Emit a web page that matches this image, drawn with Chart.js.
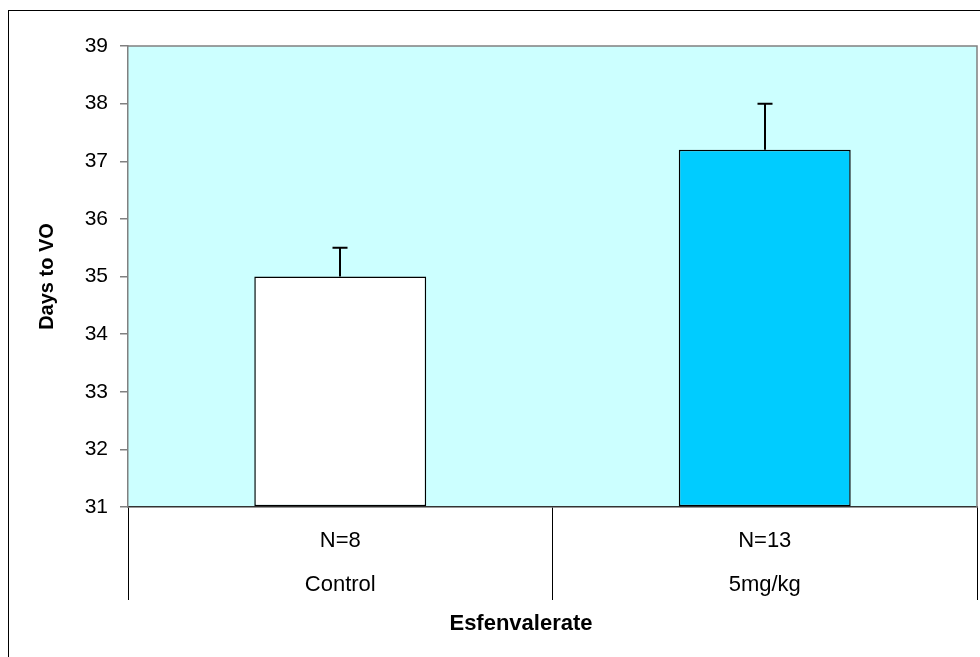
<!DOCTYPE html>
<html>
<head>
<meta charset="utf-8">
<script src="https://cdn.jsdelivr.net/npm/chart.js@4/dist/chart.umd.min.js"></script>
<style>
  html, body { margin: 0; padding: 0; background: #ffffff; }
  #wrap { position: relative; width: 980px; height: 657px; }
</style>
</head>
<body>
<div id="wrap"><canvas id="c"></canvas></div>
<script>
// ---- data ----
const categories = ["Control", "5mg/kg"];
const sampleSizes = ["N=8", "N=13"];
const meanDays = [35.0, 37.2];
const errorUp = [0.5, 0.8];
const barColors = ["#FFFFFF", "#00CCFF"];
const yTickValues = [31, 32, 33, 34, 35, 36, 37, 38, 39];
const yTitle = "Days to VO";
const xTitle = "Esfenvalerate";

const FONT = "'Liberation Sans', Arial, sans-serif";

const framePlugin = {
  id: 'frame',
  beforeDraw(chart) {
    const ctx = chart.ctx;
    const a = chart.chartArea;
    ctx.save();
    ctx.fillStyle = '#CCFFFF';
    ctx.fillRect(a.left, a.top, a.right - a.left, a.bottom - a.top);
    ctx.restore();
  },
  afterDraw(chart) {
    const ctx = chart.ctx;
    const a = chart.chartArea;
    const y = chart.scales.y;
    ctx.save();
    // error bars
    ctx.strokeStyle = '#000000';
    ctx.lineWidth = 2;
    const meta = chart.getDatasetMeta(0);
    meta.data.forEach((bar, i) => {
      const px = Math.round(bar.x);
      const top = y.getPixelForValue(meanDays[i]);
      const cap = y.getPixelForValue(meanDays[i] + errorUp[i]);
      ctx.beginPath();
      ctx.moveTo(px, top);
      ctx.lineTo(px, cap);
      ctx.moveTo(px - 7.5, cap);
      ctx.lineTo(px + 7.5, cap);
      ctx.stroke();
    });
    // plot area top/right border
    ctx.strokeStyle = '#808080';
    ctx.lineWidth = 1.5;
    ctx.beginPath();
    ctx.moveTo(a.left, a.top);
    ctx.lineTo(a.right, a.top);
    ctx.lineTo(a.right, a.bottom);
    ctx.stroke();
    // outer frame
    ctx.strokeStyle = '#000000';
    ctx.lineWidth = 1;
    ctx.strokeRect(8.5, 10.5, 1000, 700);
    // x axis title
    ctx.fillStyle = '#000000';
    ctx.font = "bold 22px " + FONT;
    ctx.textAlign = 'center';
    ctx.textBaseline = 'middle';
    ctx.fillText(xTitle, 521, 624);
    ctx.restore();
  }
};

new Chart(document.getElementById('c'), {
  type: 'bar',
  data: {
    labels: categories.map((c, i) => [sampleSizes[i], c]),
    datasets: [{
      data: meanDays,
      backgroundColor: barColors,
      borderColor: '#000000',
      borderWidth: 1.5,
      borderSkipped: false,
      categoryPercentage: 1.0,
      barPercentage: 0.405,
      base: 31
    }]
  },
  options: {
    responsive: true,
    maintainAspectRatio: false,
    animation: false,
    events: [],
    layout: { padding: { top: 46, left: 0, right: 3, bottom: 0 } },
    plugins: {
      legend: { display: false },
      tooltip: { enabled: false },
      title: { display: false }
    },
    scales: {
      x: {
        offset: true,
        afterFit(scale) { scale.height = 150; },
        grid: {
          offset: true,
          drawOnChartArea: false,
          drawTicks: true,
          tickLength: 93,
          color: '#000000',
          lineWidth: 1
        },
        border: { display: true, color: '#333333', width: 1.5 },
        ticks: {
          color: '#000000',
          font: { family: FONT, size: 22, lineHeight: 2.0 },
          padding: -81,
          maxRotation: 0,
          autoSkip: false
        },
        title: { display: false }
      },
      y: {
        min: 31,
        max: 39,
        afterFit(scale) { scale.width = 128; },
        afterBuildTicks(scale) { scale.ticks = yTickValues.map(v => ({ value: v })); },
        grid: {
          drawOnChartArea: false,
          drawTicks: true,
          tickLength: 8,
          color: '#808080',
          lineWidth: 1.5
        },
        border: { display: true, color: '#808080', width: 1.5 },
        ticks: {
          color: '#000000',
          font: { family: FONT, size: 21 },
          padding: 12,
          stepSize: 1
        },
        title: {
          display: true,
          text: yTitle,
          color: '#000000',
          font: { family: FONT, size: 20, weight: 'bold' },
          padding: { top: 35, bottom: 0 }
        }
      }
    }
  },
  plugins: [framePlugin]
});
</script>
</body>
</html>
